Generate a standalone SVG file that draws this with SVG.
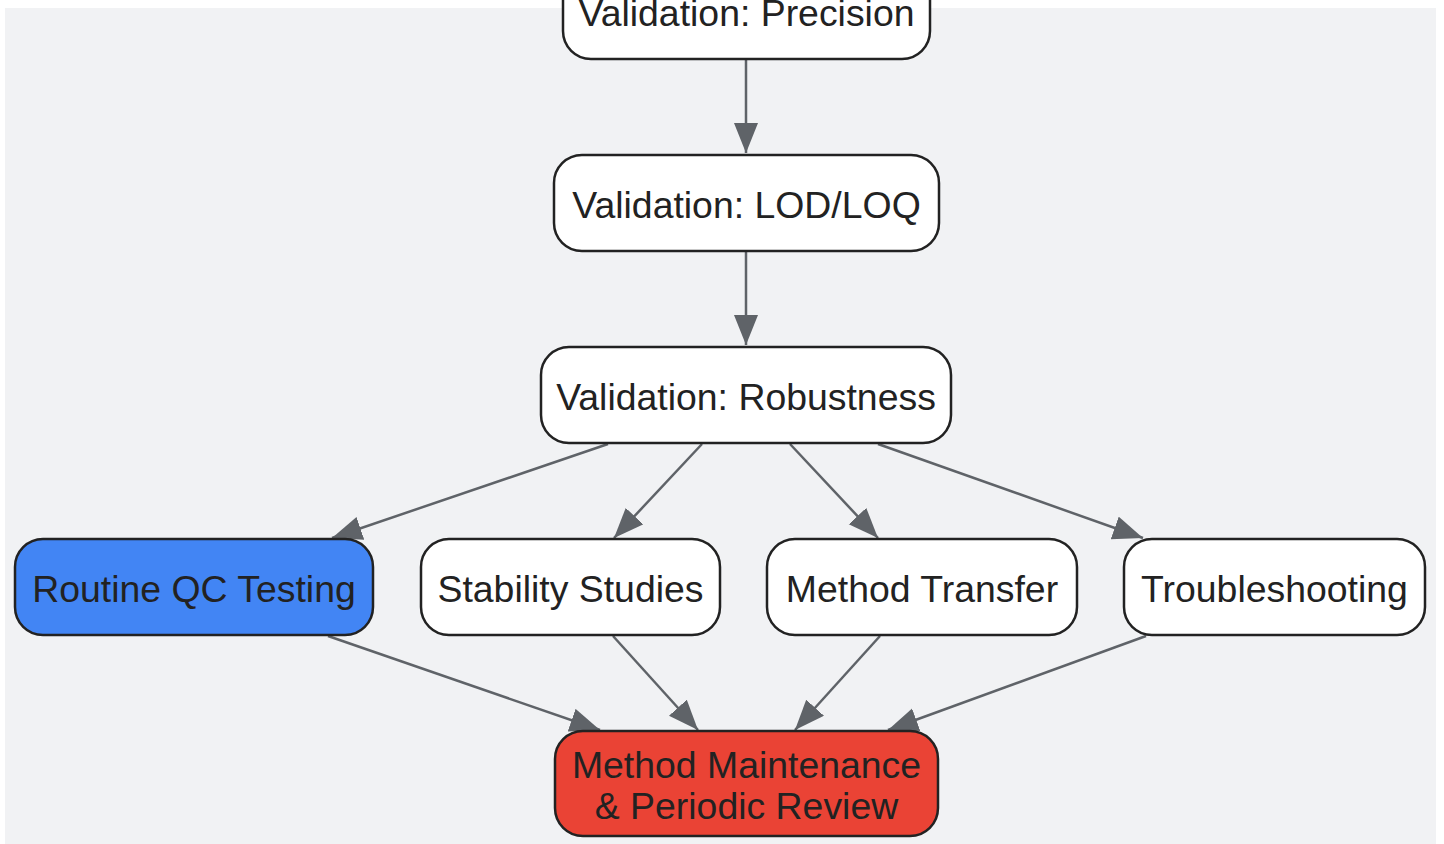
<svg xmlns="http://www.w3.org/2000/svg" width="1444" height="844" viewBox="0 0 1444 844">
<style>
.n rect{stroke:#222;stroke-width:2.5}
.n text{font-family:"Liberation Sans",Arial,sans-serif;font-size:37.4px;fill:#222;text-anchor:middle}
.w{fill:#fff}
.e line{stroke:#5f6368;stroke-width:2.5}
</style>
<defs>
<marker id="ah" markerUnits="userSpaceOnUse" markerWidth="32" markerHeight="26" refX="30" refY="12" orient="auto" viewBox="0 0 32 26">
<path d="M0,0 L30,12 L0,24 z" fill="#5f6368"/>
</marker>
</defs>
<rect width="1444" height="844" fill="#fff"/>
<rect x="5" y="8" width="1431" height="836" fill="#f1f2f4"/>
<g class="e">
<line x1="746" y1="60" x2="746" y2="153" marker-end="url(#ah)"/>
<line x1="746" y1="252" x2="746" y2="345" marker-end="url(#ah)"/>
<line x1="608" y1="444" x2="332" y2="538" marker-end="url(#ah)"/>
<line x1="702" y1="444" x2="614" y2="538" marker-end="url(#ah)"/>
<line x1="790" y1="444" x2="878" y2="538" marker-end="url(#ah)"/>
<line x1="878" y1="444" x2="1143" y2="538" marker-end="url(#ah)"/>
<line x1="328" y1="636" x2="600" y2="730" marker-end="url(#ah)"/>
<line x1="613" y1="636" x2="698" y2="730" marker-end="url(#ah)"/>
<line x1="880" y1="636" x2="795" y2="730" marker-end="url(#ah)"/>
<line x1="1146" y1="636" x2="888" y2="730" marker-end="url(#ah)"/>
</g>
<g id="precision" class="n"><rect class="w" x="563" y="-37" width="367" height="96" rx="28"/><text x="746.5" y="26">Validation: Precision</text></g>
<g id="lodloq" class="n"><rect class="w" x="554" y="155" width="385" height="96" rx="28"/><text x="746.5" y="218">Validation: LOD/LOQ</text></g>
<g id="robustness" class="n"><rect class="w" x="541" y="347" width="410" height="96" rx="28"/><text x="746" y="410">Validation: Robustness</text></g>
<g id="qc" class="n"><rect x="15" y="539" width="358" height="96" rx="28" fill="#4285f4"/><text x="194" y="602">Routine QC Testing</text></g>
<g id="stability" class="n"><rect class="w" x="421" y="539" width="299" height="96" rx="28"/><text x="570.5" y="602">Stability Studies</text></g>
<g id="transfer" class="n"><rect class="w" x="767" y="539" width="310" height="96" rx="28"/><text x="922" y="602">Method Transfer</text></g>
<g id="trouble" class="n"><rect class="w" x="1124" y="539" width="301" height="96" rx="28"/><text x="1274.5" y="602">Troubleshooting</text></g>
<g id="maint" class="n"><rect x="555" y="731" width="383" height="105" rx="28" fill="#ea4335"/><text x="746.5" y="778">Method Maintenance</text><text x="746.5" y="819">&amp; Periodic Review</text></g>
</svg>
